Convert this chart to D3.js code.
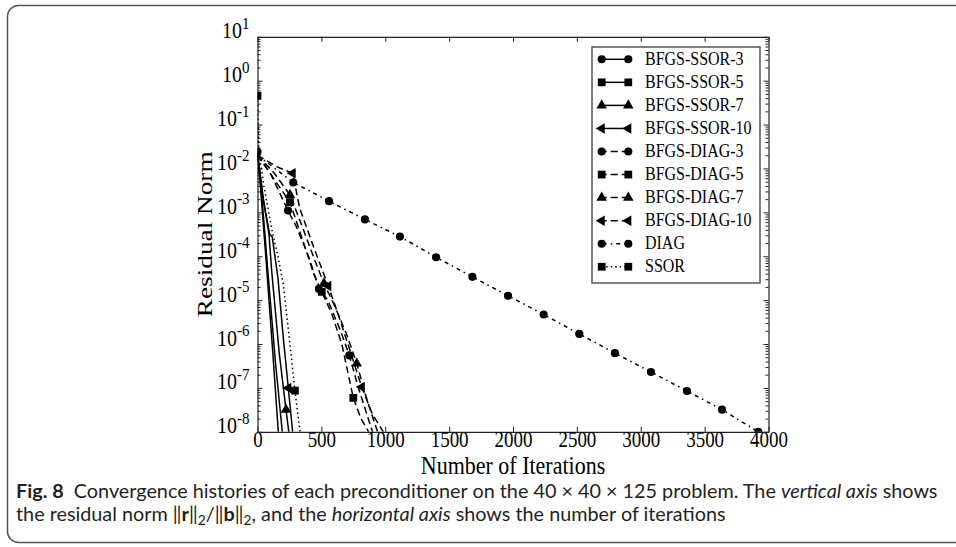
<!DOCTYPE html>
<html><head><meta charset="utf-8">
<script src="https://cdn.jsdelivr.net/npm/d3@7"></script>
<style>body{margin:0;background:#fff} svg{display:block} text{white-space:pre}</style>
</head><body>
<svg id="c" width="956" height="547"></svg>
<script>
// ---------- data ----------
const xTicks = [0, 500, 1000, 1500, 2000, 2500, 3000, 3500, 4000];
const yExponents = [1, 0, -1, -2, -3, -4, -5, -6, -7, -8];
const xTitle = "Number of Iterations";
const yTitle = "Residual Norm";
const legendLabels = ["BFGS-SSOR-3","BFGS-SSOR-5","BFGS-SSOR-7","BFGS-SSOR-10","BFGS-DIAG-3","BFGS-DIAG-5","BFGS-DIAG-7","BFGS-DIAG-10","DIAG","SSOR"];

const bfgsSsor3Iter = [0, 25, 70, 120, 163];
const bfgsSsor3Res  = [2.4e-2, 3.2e-3, 6.3e-5, 6.3e-7, 1e-8];
const bfgsSsor3Marks = [0];

const bfgsSsor5Iter = [0, 30, 80, 140, 194];
const bfgsSsor5Res  = [2.2e-2, 3.2e-3, 5.0e-5, 4.0e-7, 1e-8];
const bfgsSsor5Marks = [];

const bfgsSsor7Iter = [0, 40, 90, 110, 170, 223, 245];
const bfgsSsor7Res  = [2.2e-2, 2.5e-3, 3.2e-4, 5.0e-5, 6.3e-7, 3.2e-8, 1e-8];
const bfgsSsor7Marks = [5];

const bfgsSsor10Iter = [0, 50, 95, 115, 160, 200, 241, 275];
const bfgsSsor10Res  = [2.2e-2, 1.6e-3, 3.2e-4, 2.8e-4, 3.2e-5, 1.6e-6, 1.0e-7, 1e-8];
const bfgsSsor10Marks = [6];

const bfgsDiag3Iter = [0, 100, 239, 300, 400, 481, 550, 650, 719, 790, 900];
const bfgsDiag3Res  = [2.0e-2, 7.9e-3, 1.1e-3, 5.0e-4, 1.0e-4, 1.8e-5, 1.0e-5, 2.0e-6, 5.5e-7, 1.0e-7, 1e-8];
const bfgsDiag3Marks = [2, 5, 8];

const bfgsDiag5Iter = [0, 120, 254, 350, 440, 503, 580, 660, 750, 810, 870];
const bfgsDiag5Res  = [2.0e-2, 6.3e-3, 1.7e-3, 2.5e-4, 4.0e-5, 1.55e-5, 5.0e-6, 1.0e-6, 5.9e-8, 2.0e-8, 1e-8];
const bfgsDiag5Marks = [2, 5, 8];

const bfgsDiag7Iter = [0, 130, 254, 360, 450, 520, 600, 700, 777, 860, 940];
const bfgsDiag7Res  = [2.0e-2, 7.9e-3, 2.5e-3, 4.0e-4, 7.9e-5, 2.4e-5, 7.9e-6, 1.6e-6, 3.6e-7, 5.0e-8, 1e-8];
const bfgsDiag7Marks = [2, 5, 8];

const bfgsDiag10Iter = [0, 150, 275, 330, 440, 554, 640, 730, 816, 900, 985];
const bfgsDiag10Res  = [2.0e-2, 1.1e-2, 7.8e-3, 1.26e-3, 1.6e-4, 2.1e-5, 4.0e-6, 6.3e-7, 1.05e-7, 2.5e-8, 1e-8];
const bfgsDiag10Marks = [2, 5, 8];

const diagIter = [0, 280, 560, 841, 1115, 1398, 1682, 1961, 2240, 2519, 2798, 3080, 3362, 3636, 3920];
const diagRes  = [2.0e-2, 4.8e-3, 1.8e-3, 6.9e-4, 2.8e-4, 9.5e-5, 3.4e-5, 1.26e-5, 4.7e-6, 1.7e-6, 6.2e-7, 2.3e-7, 8.5e-8, 3.2e-8, 1.0e-8];
const diagMarks = [1,2,3,4,5,6,7,8,9,10,11,12,13,14];

const ssorIter = [0, 3, 10, 50, 113, 160, 200, 235, 265, 293, 333];
const ssorRes  = [4.5e-1, 2.0e-1, 2.5e-2, 4.0e-3, 4.0e-4, 1.0e-4, 2.5e-5, 3.2e-6, 5.0e-7, 8.7e-8, 1e-8];
const ssorMarks = [0, 9];

// ---------- styles ----------
const SOLID = null, DASH = "7,4", DASHDOT = "4,4,1.5,4", DOT = "1.5,3";
const series = [
  {iter:bfgsSsor3Iter, res:bfgsSsor3Res, marks:bfgsSsor3Marks, sym:"circle", dash:SOLID},
  {iter:bfgsSsor5Iter, res:bfgsSsor5Res, marks:bfgsSsor5Marks, sym:"square", dash:SOLID},
  {iter:bfgsSsor7Iter, res:bfgsSsor7Res, marks:bfgsSsor7Marks, sym:"triangle", dash:SOLID},
  {iter:bfgsSsor10Iter, res:bfgsSsor10Res, marks:bfgsSsor10Marks, sym:"left", dash:SOLID},
  {iter:bfgsDiag3Iter, res:bfgsDiag3Res, marks:bfgsDiag3Marks, sym:"circle", dash:DASH},
  {iter:bfgsDiag5Iter, res:bfgsDiag5Res, marks:bfgsDiag5Marks, sym:"square", dash:DASH},
  {iter:bfgsDiag7Iter, res:bfgsDiag7Res, marks:bfgsDiag7Marks, sym:"triangle", dash:DASH},
  {iter:bfgsDiag10Iter, res:bfgsDiag10Res, marks:bfgsDiag10Marks, sym:"left", dash:DASH},
  {iter:diagIter, res:diagRes, marks:diagMarks, sym:"circle", dash:DASHDOT},
  {iter:ssorIter, res:ssorRes, marks:ssorMarks, sym:"square", dash:DOT}
];

const svg = d3.select("#c");
const SERIF = "'Liberation Serif','Times New Roman',serif";
const VS = 1.18; // vertical stretch of the chart's lettering

// outer rounded frame
svg.append("rect").attr("x",7.5).attr("y",5.5).attr("width",1000).attr("height",537)
  .attr("rx",11).attr("fill","none").attr("stroke","#555").attr("stroke-width",1.5);

const L = 257.5, R = 768.5, T = 36.8, B = 431.8;
const x = d3.scaleLinear().domain([0, 4000]).range([L, R]);
const y = d3.scaleLog().domain([1e-8, 10]).range([B, T]);

const majorY = yExponents.map(e => Math.pow(10, e));
const minorY = [];
for (let e = -8; e < 1; e++) for (let k = 2; k <= 9; k++) minorY.push(k * Math.pow(10, e));

function styleAxis(g){
  g.selectAll("path.domain").attr("stroke","#222").attr("stroke-width",1.2);
  g.selectAll(".tick line").attr("stroke","#222").attr("stroke-width",1);
}
// bottom
const gB = svg.append("g").attr("transform",`translate(0,${B})`)
  .call(d3.axisBottom(x).tickValues(xTicks).tickSize(-5).tickSizeOuter(0).tickFormat(""));
styleAxis(gB);
gB.selectAll(".tick").append("text")
  .attr("transform", `translate(0,15) scale(1,${VS})`)
  .attr("text-anchor","middle").attr("font-family",SERIF).attr("font-size",19).attr("fill","#000")
  .text(d => d3.format("d")(d));
// top
const gT = svg.append("g").attr("transform",`translate(0,${T})`)
  .call(d3.axisTop(x).tickValues(xTicks).tickSize(-5).tickSizeOuter(0).tickFormat(""));
styleAxis(gT);
// left
const gL = svg.append("g").attr("transform",`translate(${L},0)`)
  .call(d3.axisLeft(y).tickValues(majorY).tickSize(-5).tickSizeOuter(0).tickFormat(""));
styleAxis(gL);
const gLm = svg.append("g").attr("transform",`translate(${L},0)`)
  .call(d3.axisLeft(y).tickValues(minorY).tickSize(-3).tickSizeOuter(0).tickFormat(""));
styleAxis(gLm); gLm.select("path.domain").remove();
// right
const gR = svg.append("g").attr("transform",`translate(${R},0)`)
  .call(d3.axisRight(y).tickValues(majorY).tickSize(-5).tickSizeOuter(0).tickFormat(""));
styleAxis(gR);
const gRm = svg.append("g").attr("transform",`translate(${R},0)`)
  .call(d3.axisRight(y).tickValues(minorY).tickSize(-3).tickSizeOuter(0).tickFormat(""));
styleAxis(gRm); gRm.select("path.domain").remove();

// y tick labels with superscripts
gL.selectAll(".tick").each(function(d){
  const e = Math.round(Math.log10(d));
  const t = d3.select(this).append("text").attr("transform",`translate(-8,1) scale(1,${VS})`)
    .attr("text-anchor","end").attr("font-family",SERIF).attr("fill","#000").attr("font-size",20);
  t.append("tspan").text("10");
  t.append("tspan").attr("font-size",15).attr("dy",-8).text(String(e));
});

// axis titles
svg.append("text").attr("transform",`translate(${(L+R)/2},473.5) scale(1,1.12)`).attr("text-anchor","middle")
  .attr("font-family",SERIF).attr("font-size",22).text(xTitle);
svg.append("text").attr("transform",`translate(212,${(T+B)/2}) rotate(-90) scale(1.24,1)`).attr("text-anchor","middle")
  .attr("font-family",SERIF).attr("font-size",22).text(yTitle);

// clip
svg.append("clipPath").attr("id","clip").append("rect").attr("x",L).attr("y",T).attr("width",R-L).attr("height",B-T);
const plot = svg.append("g").attr("clip-path","url(#clip)");

const line = d3.line().x(d => x(d[0])).y(d => y(d[1]));
function symPath(sym){
  if (sym === "circle") return d3.symbol(d3.symbolCircle, 52)();
  if (sym === "square") return d3.symbol(d3.symbolSquare, 60)();
  return d3.symbol(d3.symbolTriangle, 48)();
}
function drawMarker(g, sym, px, py){
  g.append("path").attr("d", symPath(sym))
    .attr("transform", `translate(${px},${py})` + (sym === "left" ? " rotate(-90)" : ""))
    .attr("fill","#000");
}

series.forEach(s => {
  const pts = s.iter.map((v, i) => [v, s.res[i]]);
  plot.append("path").datum(pts).attr("d", line).attr("fill","none")
    .attr("stroke","#000").attr("stroke-width",1.5)
    .attr("stroke-dasharray", s.dash);
  s.marks.forEach(i => drawMarker(plot, s.sym, x(pts[i][0]), y(pts[i][1])));
});

// legend
const lg = svg.append("g");
lg.append("rect").attr("x",592).attr("y",47).attr("width",168).attr("height",236)
  .attr("fill","#fff").attr("stroke","#555").attr("stroke-width",1.5);
legendLabels.forEach((lab, i) => {
  const ly = 59.3 + i * 23.05;
  const s = series[i];
  lg.append("line").attr("x1",601.7).attr("x2",628.3).attr("y1",ly).attr("y2",ly)
    .attr("stroke","#000").attr("stroke-width",1.5).attr("stroke-dasharray", s.dash)
    .attr("stroke-dashoffset", s.dash === DASH ? 2 : (s.dash === DASHDOT ? -1 : 0));
  drawMarker(lg, s.sym, 601.7, ly);
  drawMarker(lg, s.sym, 628.3, ly);
  lg.append("text").attr("transform",`translate(645,${ly+5.5}) scale(1,1.12)`)
    .attr("font-family",SERIF).attr("font-size",16).text(lab);
});

// caption
const CAP = "Lato, 'Open Sans', sans-serif";
const c1 = svg.append("text").attr("x",16).attr("y",498).attr("font-family",CAP).attr("fill","#231f20");
c1.append("tspan").attr("font-weight","bold").text("Fig. 8");
c1.append("tspan").text("  Convergence histories of each preconditioner on the 40 \u00d7 40 \u00d7 125 problem. The ");
c1.append("tspan").attr("font-style","italic").text("vertical axis");
c1.append("tspan").text(" shows");
const c2 = svg.append("text").attr("x",16).attr("y",521).attr("font-family",CAP).attr("fill","#231f20");
c2.append("tspan").text("the residual norm \u2016");
c2.append("tspan").attr("font-weight","bold").text("r");
c2.append("tspan").text("\u2016");
c2.append("tspan").attr("class","sub").attr("dy",4).text("2");
c2.append("tspan").attr("dy",-4).text("/\u2016");
c2.append("tspan").attr("font-weight","bold").text("b");
c2.append("tspan").text("\u2016");
c2.append("tspan").attr("class","sub").attr("dy",4).text("2");
c2.append("tspan").attr("dy",-4).text(", and the ");
c2.append("tspan").attr("font-style","italic").text("horizontal axis");
c2.append("tspan").text(" shows the number of iterations");
c1.attr("font-size",17); c2.attr("font-size",17);
const w1 = c1.node().getComputedTextLength();
const fs = 17 * (922 / w1);
c1.attr("font-size",fs); c2.attr("font-size",fs);
c2.selectAll("tspan.sub").attr("font-size", fs*0.7);
</script>
</body></html>
